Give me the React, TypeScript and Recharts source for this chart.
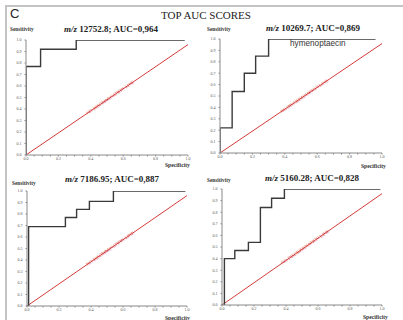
import React from 'react';
import { LineChart, Line, XAxis, YAxis, ReferenceDot } from 'recharts';

// ---- data ----
const mzValues = ['12752.8', '10269.7', '7186.95', '5160.28'];
const aucValues = ['0,964', '0,869', '0,887', '0,828'];

const fpr1 = [0, 0, 0.09, 0.31, 0.98];
const tpr1 = [0, 0.77, 0.92, 1, 1];

const fpr2 = [0, 0, 0.075, 0.15, 0.22, 0.3, 0.96];
const tpr2 = [0, 0.22, 0.54, 0.7, 0.85, 1, 1];

const fpr3 = [0.01, 0.01, 0.24, 0.31, 0.39, 0.54, 0.99];
const tpr3 = [0, 0.69, 0.77, 0.84, 0.91, 1, 1];

const fpr4 = [0.015, 0.015, 0.08, 0.165, 0.24, 0.31, 0.39, 0.99];
const tpr4 = [0, 0.4, 0.47, 0.54, 0.84, 0.92, 1, 1];

const diagX = [0, 1];
const diagY = [0, 0.96];

const xTicks = [0, 0.05, 0.1, 0.15, 0.2, 0.25, 0.3, 0.35, 0.4, 0.45, 0.5, 0.55, 0.6, 0.65, 0.7, 0.75, 0.8, 0.85, 0.9, 0.95, 1];
const xTickLabels = ['0.0', '0.2', '0.4', '0.6', '0.8', '1.0'];
const yTicks = [0, 0.1, 0.2, 0.3, 0.4, 0.5, 0.6, 0.7, 0.8, 0.9, 1];
const yTickLabels = ['0.0', '0.1', '0.2', '0.3', '0.4', '0.5', '0.6', '0.7', '0.8', '0.9', '1.0'];

const diagLabelText = 'NO DISCRIMINATION LINE';
const diagLabelX = 0.52;
const diagLabelY = 0.5;

const extraLabel = 'hymenoptaecin';

const zip = (xs: number[], ys: number[]) => xs.map((x, i) => ({ x, y: ys[i] }));

const rocSeries = [zip(fpr1, tpr1), zip(fpr2, tpr2), zip(fpr3, tpr3), zip(fpr4, tpr4)];
const diagSeries = zip(diagX, diagY);

// ---- layout ----
const plots = [
  { l: 26, r: 188, t: 40, b: 155 },
  { l: 220, r: 382, t: 39, b: 153 },
  { l: 27, r: 187, t: 191, b: 306 },
  { l: 222, r: 382, t: 189, b: 305 },
];
const titlePos = [
  { x: 111, y: 32 },
  { x: 313, y: 31 },
  { x: 112, y: 182 },
  { x: 312, y: 181 },
];
const sensPos = [
  { x: 10, y: 31 },
  { x: 207, y: 31 },
  { x: 12, y: 185 },
  { x: 207, y: 182 },
];
const specPos = [
  { x: 165, y: 167 },
  { x: 361, y: 168 },
  { x: 165, y: 320 },
  { x: 363, y: 319 },
];

const Y_AXIS_W = 12;
const X_AXIS_H = 10;
const M = { top: 6, right: 4, left: 2, bottom: 0 };

const serif = '"Liberation Serif", "DejaVu Serif", serif';
const sans = '"Liberation Sans", Arial, sans-serif';

const xFmt = (v: number) => {
  const k = Math.round(v * 5);
  return Math.abs(v * 5 - k) < 1e-6 ? xTickLabels[k] : '';
};
const yFmt = (v: number) => yTickLabels[Math.round(v * 10)] ?? '';

const DiagLabel = (props: any) => {
  const vb = props.viewBox || {};
  const cx = (vb.x ?? 0) + (vb.width ?? 0) / 2;
  const cy = (vb.y ?? 0) + (vb.height ?? 0) / 2;
  const ang = props.angleDeg ?? 34;
  return (
    <text
      x={cx}
      y={cy}
      transform={`rotate(${-ang}, ${cx}, ${cy})`}
      textAnchor="middle"
      dominantBaseline="central"
      fontFamily={serif}
      fontSize={4.6}
      fill="#d23a3a"
    >
      {diagLabelText}
    </text>
  );
};

const Panel = ({ idx }: { idx: number }) => {
  const p = plots[idx];
  const width = p.r - p.l + Y_AXIS_W + M.left + M.right;
  const height = p.b - p.t + X_AXIS_H + M.top + M.bottom;
  const left = p.l - Y_AXIS_W - M.left;
  const top = p.t - M.top;
  const pw = p.r - p.l;
  const ph = p.b - p.t;
  const angleDeg = (Math.atan2(((diagY[1] - diagY[0]) * ph), ((diagX[1] - diagX[0]) * pw)) * 180) / Math.PI;
  return (
    <div style={{ position: 'absolute', left, top, width, height }}>
      <LineChart width={width} height={height} margin={M}>
        <XAxis
          type="number"
          dataKey="x"
          domain={[0, 1]}
          ticks={xTicks}
          tickFormatter={xFmt}
          interval={0}
          height={X_AXIS_H}
          tickSize={1.5}
          tickMargin={1}
          stroke="#8a8a8a"
          tick={{ fontSize: 4, fill: '#555', fontFamily: serif }}
          allowDataOverflow
        />
        <YAxis
          type="number"
          dataKey="y"
          domain={[0, 1]}
          ticks={yTicks}
          tickFormatter={yFmt}
          interval={0}
          width={Y_AXIS_W}
          tickSize={1.5}
          tickMargin={3}
          stroke="#8a8a8a"
          tick={{ fontSize: 4, fill: '#555', fontFamily: serif }}
          allowDataOverflow
        />
        <Line
          data={diagSeries}
          dataKey="y"
          type="linear"
          stroke="#d43b3b"
          strokeWidth={1}
          dot={false}
          isAnimationActive={false}
        />
        <Line
          data={rocSeries[idx]}
          dataKey="y"
          type="stepAfter"
          stroke="#3a3a3a"
          strokeWidth={1.4}
          dot={false}
          isAnimationActive={false}
        />
        <ReferenceDot
          x={diagLabelX}
          y={diagLabelY}
          r={1}
          fill="none"
          stroke="none"
          label={<DiagLabel angleDeg={angleDeg} />}
        />
      </LineChart>
    </div>
  );
};

export default function App() {
  return (
    <div
      style={{
        position: 'absolute',
        left: 0,
        top: 0,
        width: 403,
        height: 320,
        overflow: 'hidden',
        background: '#fff',
      }}
    >
      <div
        style={{
          position: 'absolute',
          left: 5,
          top: 5,
          width: 600,
          height: 600,
          border: '2px solid #c4c4c4',
        }}
      />
      {[0, 1, 2, 3].map((i) => (
        <Panel key={i} idx={i} />
      ))}
      <svg
        width={403}
        height={320}
        style={{ position: 'absolute', left: 0, top: 0, pointerEvents: 'none' }}
      >
        <text x={10} y={18} fontFamily={sans} fontSize={13} fill="#222">
          C
        </text>
        <text x={206} y={19} textAnchor="middle" fontFamily={serif} fontSize={11} fill="#222">
          TOP AUC SCORES
        </text>
        {titlePos.map((t, i) => (
          <text
            key={'t' + i}
            x={t.x}
            y={t.y}
            textAnchor="middle"
            fontFamily={serif}
            fontSize={9}
            fontWeight="bold"
            fill="#222"
          >
            <tspan fontStyle="italic">m/z</tspan>
            {` ${mzValues[i]}; AUC=${aucValues[i]}`}
          </text>
        ))}
        {sensPos.map((s, i) => (
          <text key={'s' + i} x={s.x} y={s.y} fontFamily={serif} fontSize={5.3} fontWeight="bold" fill="#333">
            Sensitivity
          </text>
        ))}
        {specPos.map((s, i) => (
          <text key={'p' + i} x={s.x} y={s.y} fontFamily={serif} fontSize={5.6} fontWeight="bold" fill="#333">
            Specificity
          </text>
        ))}
        <text x={290} y={46} fontFamily={sans} fontSize={8.2} fill="#333">
          {extraLabel}
        </text>
      </svg>
    </div>
  );
}
